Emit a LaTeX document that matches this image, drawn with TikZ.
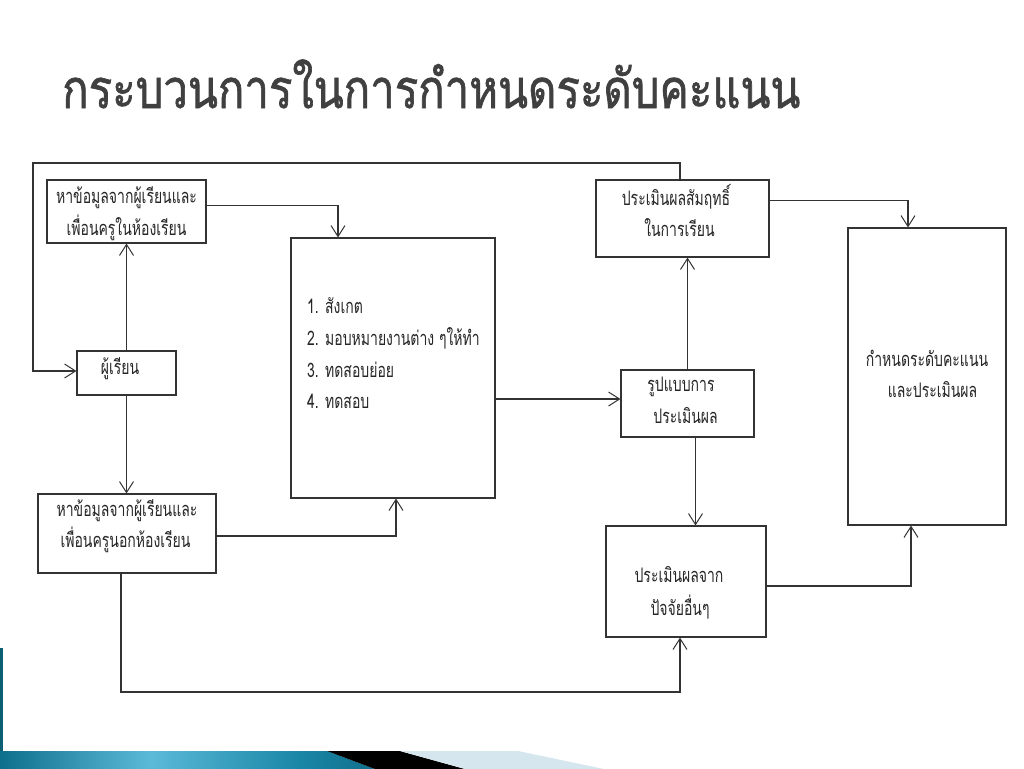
\documentclass[tikz,border=0pt]{standalone}
\usepackage{fontspec}
\usetikzlibrary{arrows.meta,calc}
\newfontfamily\thaititle[Script=Thai,FakeStretch=0.81,FakeBold=1.2]{Loma}
\newfontfamily\thaibox[Script=Thai,FakeStretch=0.7]{Loma}
\definecolor{titlegray}{HTML}{404040}
\definecolor{linegray}{HTML}{333333}
\definecolor{tealdark}{HTML}{0E6F8C}
\definecolor{teallight}{HTML}{5BBAD8}
\definecolor{tealmid}{HTML}{1A86A6}
\definecolor{palebl}{HTML}{D6E6EF}
\definecolor{stripteal}{HTML}{0B5F73}
\pgfdeclarehorizontalshading{barshade}{100bp}{color(0bp)=(tealdark); color(25bp)=(tealdark); color(45bp)=(teallight); color(65bp)=(tealmid); color(75bp)=(tealdark); color(100bp)=(tealdark)}
\tikzset{
  box/.style={draw=linegray, line width=1.1pt, inner sep=0pt},
  ln/.style={inner sep=0pt, anchor=base, font=\thaibox\fontsize{20}{20}\selectfont, text=black!85},
  lnl/.style={ln, anchor=base west},
  arr/.style={draw=linegray, line width=1.1pt, -{Straight Barb[length=11pt,width=14pt,line width=1pt]}},
}
\begin{document}
\begin{tikzpicture}[x=1pt,y=-1pt]
\useasboundingbox (0,0) rectangle (1024,768);
\fill[white] (0,0) rectangle (1024,768);
% decoration
\fill[stripteal] (0,648) rectangle (3,752);
\shade[shading=barshade] (0,751) -- (327,751) -- (375,769) -- (0,769) -- cycle;
\fill[black] (327,751) -- (400,751) -- (465,769) -- (375,769) -- cycle;
\fill[palebl] (400,751) -- (518,751) -- (604,769) -- (465,769) -- cycle;
% title
\node[inner sep=0pt, anchor=base west, text=titlegray, font=\thaititle\fontsize{54}{54}\selectfont] (title) at (62,108) {กระบวนการในการกำหนดระดับคะแนน};
% boxes
\node[box, minimum width=159pt, minimum height=63pt] (A) at (126.5,211.5) {};
\node[box, minimum width=99pt, minimum height=44pt] (B) at (126.5,373) {};
\node[box, minimum width=204pt, minimum height=260pt] (C) at (393,368) {};
\node[box, minimum width=133pt, minimum height=67pt] (D) at (687.5,403.5) {};
\node[box, minimum width=173pt, minimum height=77pt] (E) at (682.5,218.5) {};
\node[box, minimum width=158pt, minimum height=297pt] (F) at (927,376.5) {};
\node[box, minimum width=160pt, minimum height=111pt] (G) at (686,581.5) {};
\node[box, minimum width=178pt, minimum height=79pt] (H) at (127,533.5) {};
% texts
\node[ln] (a1) at (126.5,203) {หาข้อมูลจากผู้เรียนและ};
\node[ln] (a2) at (126.5,235) {เพื่อนครูในห้องเรียน};
\node[ln] (b1) at (120,374) {ผู้เรียน};
\node[lnl] (c1) at (307,313) {1. สังเกต};
\node[lnl] (c2) at (307,345) {2. มอบหมายงานต่าง ๆให้ทำ};
\node[lnl] (c3) at (307,377) {3. ทดสอบย่อย};
\node[lnl] (c4) at (307,408) {4. ทดสอบ};
\node[ln] (d1) at (681,391) {รูปแบบการ};
\node[ln] (d2) at (685.5,423) {ประเมินผล};
\node[ln] (e1) at (676,205) {ประเมินผลสัมฤทธิ์};
\node[ln] (e2) at (679.5,236) {ในการเรียน};
\node[ln] (f1) at (927,366) {กำหนดระดับคะแนน};
\node[ln] (f2) at (932.5,397) {และประเมินผล};
\node[ln] (g1) at (679,582) {ประเมินผลจาก};
\node[ln] (g2) at (680,615) {ปัจจัยอื่นๆ};
\node[ln] (h1) at (127,516) {หาข้อมูลจากผู้เรียนและ};
\node[ln] (h2) at (125.5,547) {เพื่อนครูนอกห้องเรียน};
% connectors
\coordinate (lt) at (33,163);
\coordinate (bl) at (121,692);
\draw[arr] ($(E.north)+(-2.5,0)$) |- (lt) |- ($(B.west)+(0,-2)$);
\draw[arr] (B.north) -- (A.south);
\draw[arr] ($(A.east)+(0,-6)$) -| ($(C.north)+(-55,0)$);
\draw[arr] ($(C.east)+(0,31)$) -- ($(D.west)+(0,-4.5)$);
\draw[arr] (D.north) -- (D.north |- E.south);
\draw[arr] ($(E.east)+(0,-18)$) -| ($(F.north)+(-19,0)$);
\draw[arr] (B.south) -- (B.south |- H.north);
\draw[arr] ($(H.east)+(0,2.5)$) -| ($(C.south)+(3,0)$);
\draw[arr] ($(D.south)+(8,0)$) -- ($(G.north)+(9.5,0)$);
\draw[arr] ($(H.south)+(-6,0)$) |- (bl) -| ($(G.south)+(-6,0)$);
\draw[arr] ($(G.east)+(0,4.5)$) -| ($(F.south)+(-16,0)$);
\end{tikzpicture}
\end{document}
